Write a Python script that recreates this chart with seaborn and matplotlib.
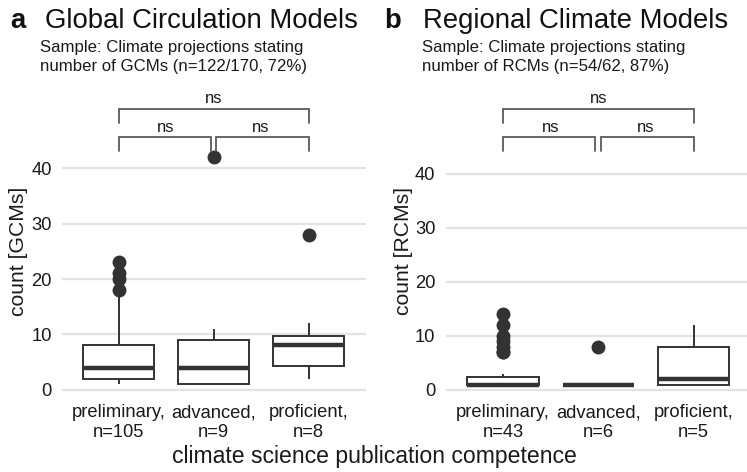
import numpy as np
import pandas as pd
import matplotlib
matplotlib.use("Agg")
import matplotlib.pyplot as plt
import matplotlib.transforms as mtransforms
import seaborn as sns

# Competence groups (x axis order)
groups = ["preliminary", "advanced", "proficient"]

# Number of GCMs per projection: distinct values and how often each occurs
gcm_prelim_values = [1, 2, 3, 4, 5, 6, 7, 8, 9, 10, 12, 15, 16, 17, 18, 20, 21, 23]
gcm_prelim_counts = [20, 15, 12, 14, 6, 6, 3, 8, 2, 7, 4, 2, 1, 1, 1, 1, 1, 1]
gcm_advanced = [1, 1, 1, 3, 4, 6, 9, 11, 42]
gcm_proficient = [2, 2, 5, 8, 8, 9, 12, 28]

# Number of RCMs per projection
rcm_prelim_values = [1, 2, 3, 7, 8, 9, 10, 12, 14]
rcm_prelim_counts = [25, 7, 4, 2, 1, 1, 1, 1, 1]
rcm_advanced = [1, 1, 1, 1, 1, 8]
rcm_proficient = [1, 1, 2, 8, 12]

y_ticks = [0, 10, 20, 30, 40]

panels = [
    dict(letter="a", title="Global Circulation Models",
         subtitle=["Sample: Climate projections stating",
                   "number of GCMs (n=122/170, 72%)"],
         ylabel="count [GCMs]",
         data=[np.repeat(gcm_prelim_values, gcm_prelim_counts), gcm_advanced, gcm_proficient]),
    dict(letter="b", title="Regional Climate Models",
         subtitle=["Sample: Climate projections stating",
                   "number of RCMs (n=54/62, 87%)"],
         ylabel="count [RCMs]",
         data=[np.repeat(rcm_prelim_values, rcm_prelim_counts), rcm_advanced, rcm_proficient]),
]

# pairwise comparison labels: (first group, second group, label, level)
comparisons = [(0, 1, "ns", 0), (1, 2, "ns", 0), (0, 2, "ns", 1)]

sns.set_theme(style="white")
plt.rcParams["font.family"] = ["Liberation Sans", "DejaVu Sans"]

W, H = 747, 472
fig = plt.figure(figsize=(W / 100, H / 100), dpi=100)

dark = "#333333"
grid_c = "#e3e3e3"
ax_top_px, ax_bot_px = 90, 396

layouts = [
    dict(left=61.5, right=365.5, xlim=(-0.6, 2.6), zero=389.7, ppu=5.535,
         title_x=10, name_x=45, sub_x=40, ylab_x=19, ypad=7.0),
    dict(left=445.7, right=747, xlim=(-0.6, 2.56), zero=390.0, ppu=5.40,
         title_x=384, name_x=423, sub_x=421.5, ylab_x=403, ypad=7.5),
]

for p, lay in zip(panels, layouts):
    ax = fig.add_axes([lay["left"] / W, (H - ax_bot_px) / H,
                       (lay["right"] - lay["left"]) / W, (ax_bot_px - ax_top_px) / H])
    labels = [f"{g},\nn={len(v)}" for g, v in zip(groups, p["data"])]
    df = pd.DataFrame({
        "group": np.concatenate([[lab] * len(v) for lab, v in zip(labels, p["data"])]),
        "count": np.concatenate([np.asarray(v, dtype=float) for v in p["data"]]),
    })
    sns.boxplot(data=df, x="group", y="count", order=labels, ax=ax,
                color="white", linecolor=dark, linewidth=1.4, width=0.75,
                showcaps=False, whis=1.5,
                medianprops=dict(linewidth=3.2, color=dark),
                flierprops=dict(marker="o", markersize=9, markerfacecolor=dark,
                                markeredgecolor=dark))
    ylo = -(ax_bot_px - lay["zero"]) / lay["ppu"]
    yhi = (lay["zero"] - ax_top_px) / lay["ppu"]
    ax.set_ylim(ylo, yhi)
    ax.set_xlim(*lay["xlim"])
    ax.set_yticks(y_ticks)
    ax.yaxis.grid(True, color=grid_c, linewidth=1.6)
    ax.xaxis.grid(False)
    ax.set_axisbelow(True)
    for s in ax.spines.values():
        s.set_visible(False)
    ax.tick_params(axis="both", length=0, labelsize=13.2, colors="#1a1a1a")
    ax.tick_params(axis="y", pad=lay["ypad"])
    ax.tick_params(axis="x", pad=6)
    ax.set_xlabel("")
    ax.set_ylabel("")

    # y axis title
    fig.text(lay["ylab_x"] / W, 1 - 251 / H, p["ylabel"], rotation=90,
             ha="center", va="center", fontsize=15.2, color="#1a1a1a")

    # panel letter, title and subtitle
    fig.text(lay["title_x"] / W, 1 - 28.5 / H, p["letter"], fontsize=19.8,
             fontweight="bold", ha="left", va="baseline", color="#111111")
    fig.text(lay["name_x"] / W, 1 - 28.5 / H, p["title"], fontsize=19.8,
             ha="left", va="baseline", color="#111111")
    for i, line in enumerate(p["subtitle"]):
        fig.text(lay["sub_x"] / W, 1 - (52.3 + 19.2 * i) / H, line, fontsize=12.1,
                 ha="left", va="baseline", color="#1a1a1a")

    # significance brackets (x in data units, y in axes fraction)
    trans = mtransforms.blended_transform_factory(ax.transData, ax.transAxes)
    def frac(px):
        return (ax_bot_px - px) / (ax_bot_px - ax_top_px)
    levels = [(137.3, 151.0, 127.7), (109.3, 122.7, 99.0)]
    for g1, g2, lab, lev in comparisons:
        top_px, tip_px, txt_px = levels[lev]
        x1 = g1 + (0.03 if g1 == 1 else 0)
        x2 = g2 - (0.03 if g2 == 1 else 0)
        ax.plot([x1, x1, x2, x2], [frac(tip_px), frac(top_px), frac(top_px), frac(tip_px)],
                color="#5a5a5a", linewidth=1.3, transform=trans, clip_on=False,
                solid_joinstyle="miter")
        ax.text((g1 + g2) / 2, frac(txt_px), lab, transform=trans, ha="center",
                va="center", fontsize=12, color="#1a1a1a")

fig.text(374 / W, 1 - 456 / H, "climate science publication competence",
         ha="center", va="center", fontsize=16.6, color="#1a1a1a")

fig.savefig("out.png", dpi=100)
